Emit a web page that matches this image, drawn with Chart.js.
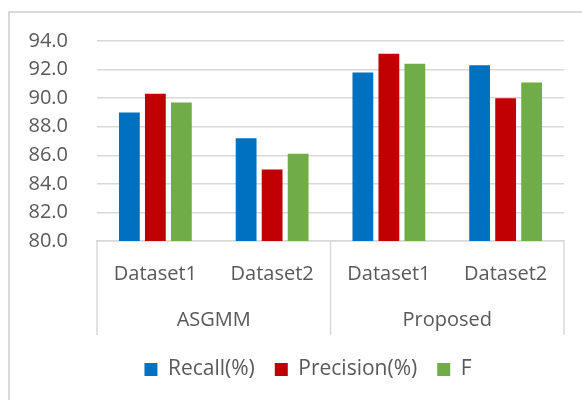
<!DOCTYPE html>
<html>
<head>
<meta charset="utf-8">
<script src="https://cdn.jsdelivr.net/npm/chart.js@4"></script>
<style>
body{margin:0;background:#fff}
#wrap{width:582px;height:400px}
</style>
</head>
<body>
<div id="wrap"><canvas id="chart"></canvas></div>
<script>
// data
const datasets=['Dataset1','Dataset2','Dataset1','Dataset2']
const groups=['ASGMM','Proposed']
const recall=[89.0,87.2,91.8,92.3]
const precision=[90.3,85.0,93.1,90.0]
const fScore=[89.7,86.1,92.4,91.1]

const grey='#d9d9d9'
const textCol='#595959'
const font={family:'"Open Sans", sans-serif',size:20}

/* frame + group separators */
const decor={
id:'decor',
afterLayout(chart){
// legend sits a bit right of centre in the original
chart.legend.left+=26
chart.legend.right+=26
},
beforeDraw(chart){
const c=chart.ctx
c.save()
c.strokeStyle=grey
c.lineWidth=2
c.strokeRect(9,12,700,500)
c.restore()
},
afterDraw(chart){
const x=chart.scales.x
const x2=chart.scales.x2
const mid=(x.getPixelForValue(1)+x.getPixelForValue(2))/2
const c=chart.ctx
c.save()
c.strokeStyle=grey
c.lineWidth=1.5
;[x.left,mid,x.right].forEach(px=>{
c.beginPath()
c.moveTo(px,x.top)
c.lineTo(px,x2.top+44)
c.stroke()
})
c.restore()
}
}

new Chart(document.getElementById('chart'),{
type:'bar',
data:{
labels:datasets,
datasets:[
{label:'Recall(%)',data:recall,backgroundColor:'#0070c0',borderWidth:0},
{label:'Precision(%)',data:precision,backgroundColor:'#c00000',borderWidth:0},
{label:'F',data:fScore,backgroundColor:'#70ad47',borderWidth:0}
]
},
options:{
responsive:true,
maintainAspectRatio:false,
animation:false,
categoryPercentage:0.668,
barPercentage:0.8,
layout:{padding:{top:40,right:18,bottom:10,left:0}},
plugins:{
tooltip:{enabled:false},
legend:{
position:'bottom',
labels:{font:{...font,size:21},color:textCol,boxWidth:13,boxHeight:13,padding:20}
}
},
scales:{
y:{
min:80,max:94,
ticks:{stepSize:2,font,color:textCol,padding:29,callback:v=>v.toFixed(1)},
grid:{color:grey,lineWidth:1.5,drawTicks:false},
border:{display:false},
afterFit:s=>{s.width=97}
},
x:{
ticks:{font,color:textCol,padding:13,maxRotation:0,autoSkip:false},
grid:{display:false},
border:{display:true,color:grey,width:1.5},
afterFit:s=>{s.height=50}
},
x2:{
type:'category',
labels:groups,
position:'bottom',
offset:true,
ticks:{font,color:textCol,padding:17,maxRotation:0},
grid:{display:false,drawTicks:false},
border:{display:false},
afterFit:s=>{s.height=48}
}
}
},
plugins:[decor]
})
</script>
</body>
</html>
